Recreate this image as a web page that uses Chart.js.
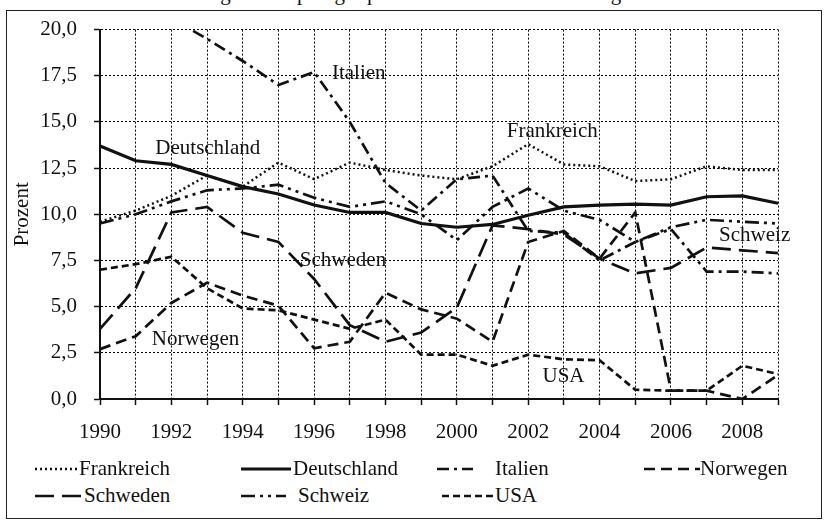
<!DOCTYPE html>
<html>
<head>
<meta charset="utf-8">
<script src="https://cdn.jsdelivr.net/npm/chart.js@4.4.1/dist/chart.umd.min.js"></script>
<style>
  body { margin: 0; width: 827px; height: 521px; overflow: hidden; position: relative; background: #fff; font-family: "Liberation Serif", serif; color: #111; }
  #frame { position: absolute; left: 6px; top: 10px; width: 814px; height: 507px; border: 1.5px solid #222; }
  #caption { position: absolute; left: 2px; top: -19px; font-size: 21px; white-space: nowrap; }
  #chart { position: absolute; left: 0; top: 0; }
  .item { position: absolute; height: 24px; font-size: 21px; line-height: 24px; white-space: nowrap; }
  .item svg { position: absolute; top: 0; }
  .item span { position: absolute; top: 0; }
</style>
</head>
<body>
<div id="caption">Schaubild 10: Entwicklung der Empfängerquoten im internationalen Vergleich</div>
<div id="frame"></div>
<canvas id="chart" width="827" height="460"></canvas>
<div id="legend"></div>
<script>
// years on the x axis
const years = ["1990","1991","1992","1993","1994","1995","1996","1997","1998","1999",
               "2000","2001","2002","2003","2004","2005","2006","2007","2008","2009"];

// values in percent
const frankreich  = [9.6, 10.2, 11.0, 12.1, 11.5, 12.8, 11.9, 12.8, 12.4, 12.1, 11.9, 12.6, 13.8, 12.7, 12.6, 11.8, 11.9, 12.6, 12.4, 12.4];
const deutschland = [13.7, 12.9, 12.7, 12.1, 11.5, 11.1, 10.5, 10.1, 10.1, 9.5, 9.3, 9.45, 9.95, 10.4, 10.5, 10.55, 10.5, 10.95, 11.0, 10.6];
const italien     = [null, null, 20.6, 19.5, 18.3, 17.0, 17.7, 15.0, 11.7, 10.2, 11.9, 12.1, 9.1, 9.0, 7.5, 8.5, 9.2, 6.9, 6.9, 6.8];
const norwegen    = [2.7, 3.4, 5.2, 6.3, 5.6, 5.05, 2.75, 3.1, 5.75, 4.85, 4.35, 3.1, 8.5, 9.1, 7.6, 10.1, 0.45, 0.45, 0, 1.3];
const schweden    = [3.8, 6.0, 10.1, 10.4, 9.0, 8.5, 6.5, 4.0, 3.1, 3.6, 4.95, 9.4, 9.2, 8.9, 7.6, 6.8, 7.1, 8.2, 8.05, 7.9];
const schweiz     = [9.5, 10.0, 10.7, 11.3, 11.4, 11.6, 10.9, 10.4, 10.7, 10.0, 8.6, 10.4, 11.4, 10.2, 9.7, 8.5, 9.3, 9.7, 9.6, 9.5];
const usa         = [7.0, 7.3, 7.7, 6.0, 4.9, 4.8, 4.3, 3.8, 4.3, 2.4, 2.4, 1.8, 2.4, 2.15, 2.1, 0.5, 0.45, 0.45, 1.8, 1.35];

// y axis ticks
const yMin = 0, yMax = 20, yStep = 2.5;

// text written inside the plot, anchored at (year, value)
const notes = [
  { text: "Deutschland", year: 1991.55, value: 13.25 },
  { text: "Italien",     year: 1996.5,  value: 17.35 },
  { text: "Frankreich",  year: 2001.4,  value: 14.2 },
  { text: "Schweden",    year: 1995.6,  value: 7.2 },
  { text: "Norwegen",    year: 1991.45, value: 2.95 },
  { text: "USA",         year: 2002.4,  value: 0.9 },
  { text: "Schweiz",     year: 2007.35, value: 8.55 }
];

const ink = "#111";
const FONT = '"Liberation Serif", "Times New Roman", serif';

const series = [
  { label: "Frankreich",  data: frankreich,  dash: [2, 3],              width: 2.5 },
  { label: "Deutschland", data: deutschland, dash: [],                  width: 3.2 },
  { label: "Italien",     data: italien,     dash: [12, 5, 3, 5],       width: 2.7 },
  { label: "Norwegen",    data: norwegen,    dash: [11, 6],             width: 2.7 },
  { label: "Schweden",    data: schweden,    dash: [19, 8],             width: 2.7 },
  { label: "Schweiz",     data: schweiz,     dash: [14, 5, 3, 5, 3, 5], width: 2.7 },
  { label: "USA",         data: usa,         dash: [7, 4],              width: 2.7 }
];

const notesPlugin = {
  id: "notes",
  afterDatasetsDraw(chart) {
    const { ctx, scales: { x, y } } = chart;
    ctx.save();
    ctx.font = "21px " + FONT;
    ctx.fillStyle = ink;
    ctx.textBaseline = "alphabetic";
    ctx.textAlign = "left";
    notes.forEach(n => {
      ctx.fillText(n.text, x.getPixelForValue(n.year - 1990), y.getPixelForValue(n.value));
    });
    ctx.restore();
  }
};

const chart = new Chart(document.getElementById("chart"), {
  type: "line",
  data: {
    labels: years,
    datasets: series.map(s => ({
      label: s.label,
      data: s.data,
      borderColor: ink,
      borderWidth: s.width,
      borderDash: s.dash,
      pointRadius: 0,
      tension: 0,
      fill: false
    }))
  },
  options: {
    responsive: false,
    animation: false,
    layout: { padding: { top: 20, right: 49, left: 6, bottom: 0 } },
    plugins: { legend: { display: false }, tooltip: { enabled: false } },
    scales: {
      x: {
        grid: { color: "#000", lineWidth: 1, tickLength: 6, tickWidth: 1.5, tickColor: ink },
        border: { color: ink, width: 2, dash: [2, 2] },
        ticks: {
          autoSkip: false, maxRotation: 0, padding: 15, color: ink,
          font: { family: FONT, size: 21 },
          callback: (v, i) => (i % 2 === 0 ? years[i] : "")
        },
        afterFit: s => { s.height = 61; }
      },
      y: {
        min: yMin, max: yMax,
        grid: { color: "#000", lineWidth: 1, tickLength: 6, tickWidth: 1.5, tickColor: ink },
        border: { color: ink, width: 2, dash: [2, 2] },
        ticks: {
          stepSize: yStep, padding: 17, color: ink,
          font: { family: FONT, size: 21 },
          callback: v => v.toFixed(1).replace(".", ",")
        },
        title: { display: true, text: "Prozent", color: ink, font: { family: FONT, size: 21 }, padding: { top: 4, bottom: 0 } },
        afterFit: s => { s.width = 94; }
      }
    }
  },
  plugins: [notesPlugin]
});

// legend in the bottom part of the frame
const legendSpots = [
  { x: 35, y: 456, w: 44, tx: 79 },
  { x: 241, y: 456, w: 50, tx: 293 },
  { x: 437, y: 456, w: 36, tx: 495 },
  { x: 644, y: 456, w: 56, tx: 700 },
  { x: 35, y: 483, w: 48, tx: 84 },
  { x: 241, y: 483, w: 45, tx: 298 },
  { x: 442, y: 483, w: 51, tx: 495 }
];
const legend = document.getElementById("legend");
series.forEach((s, i) => {
  const p = legendSpots[i];
  const div = document.createElement("div");
  div.className = "item";
  div.style.left = p.x + "px";
  div.style.top = p.y + "px";
  div.innerHTML =
    '<svg width="' + p.w + '" height="24"><line x1="0" y1="13" x2="' + p.w + '" y2="13" stroke="' + ink +
    '" stroke-width="' + s.width + '" stroke-dasharray="' + (s.dash.length ? s.dash.join(" ") : "none") + '"/></svg>' +
    '<span style="left:' + (p.tx - p.x) + 'px">' + s.label + '</span>';
  legend.appendChild(div);
});
</script>
</body>
</html>
